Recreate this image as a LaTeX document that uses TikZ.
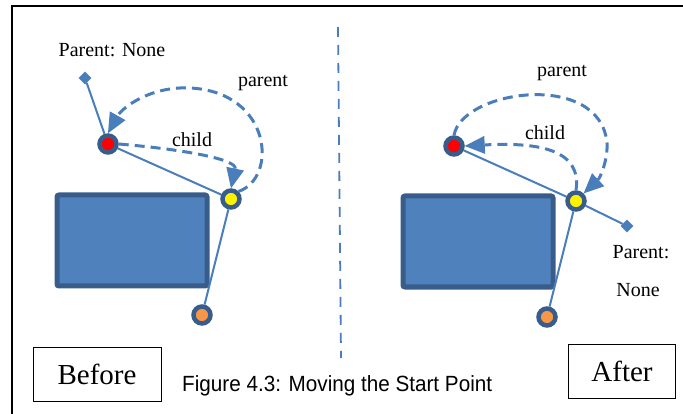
\documentclass[tikz,border=0pt]{standalone}
\usepackage{fontspec}
\setmainfont{Liberation Serif}
\newfontfamily\capfont{Liberation Sans}
\usetikzlibrary{arrows.meta}
\definecolor{linecol}{RGB}{74,126,187}
\definecolor{ringcol}{RGB}{56,93,138}
\definecolor{boxfill}{RGB}{79,129,189}
\definecolor{dotorange}{RGB}{247,150,70}
\tikzset{
  joint/.style={circle, draw=ringcol, line width=4.5pt, minimum size=17pt, inner sep=0pt},
  link/.style={draw=linecol, line width=2pt},
  endmark/.style={rectangle, rotate=45, fill=linecol, minimum size=9pt, inner sep=0pt},
  ptr/.style={draw=linecol, line width=3pt, dash pattern=on 10pt off 6pt,
    -{Triangle[length=20pt,width=18pt,line width=0pt]}},
  obstacle/.style={draw=ringcol, fill=boxfill, line width=5pt, rounded corners=2pt},
  lbl/.style={font=\fontsize{20}{24}\selectfont, inner sep=0pt},
  tag/.style={draw=black, line width=0.9pt, font=\fontsize{29}{33}\selectfont}
}
\begin{document}
\begin{tikzpicture}[x=1pt, y=-1pt]
\useasboundingbox (0,0) rectangle (683,414);
% outer frame (top and left edges)
\draw[line width=2pt] (683,6) -- (12,6) -- (12,414);
% divider
\draw[linecol, line width=1.8pt, dash pattern=on 10pt off 8pt] (338,27) -- (341,358);

% ---------- before ----------
\draw[obstacle] (57,195) rectangle (207,286);
\node[endmark] (ba) at (85,78) {};
\node[joint, fill=red] (br) at (108,144) {};
\node[joint, fill=yellow] (by) at (231,199) {};
\node[joint, fill=dotorange] (bo) at (202,315) {};
\draw[link] (ba) -- (br);
\draw[link] (br) -- (by);
\draw[link] (by) -- (bo);
\node[lbl] (bpn) at (112,50) {Parent: None};
\draw[ptr] (br.east) .. controls (190,150) and (237,160) .. (by.north);
\node[lbl] (bch) at (192,140) {child};
\draw[ptr] (by.north east) .. controls (278,178) and (272,92) .. (190,88)
  .. controls (150,86) and (122,108) .. (br.north);
\node[lbl] (bpa) at (263,83) {parent};

% ---------- after ----------
\draw[obstacle] (403,196) rectangle (553,287);
\node[joint, fill=red] (ar) at (454,146) {};
\node[joint, fill=yellow] (ay) at (576,201) {};
\node[joint, fill=dotorange] (ao) at (547,317) {};
\node[endmark] (aa) at (627,226) {};
\draw[link] (ar) -- (ay);
\draw[link] (ay) -- (aa);
\draw[link] (ay) -- (ao);
\draw[ptr] (ay.north) .. controls (582,150) and (540,142) .. (ar.east);
\node[lbl] (ach) at (545,133) {child};
\draw[ptr] (ar.north) .. controls (462,90) and (600,70) .. (607,143)
  .. controls (608,160) and (600,178) .. (ay.north east);
\node[lbl] (apa) at (562,73) {parent};
\node[lbl] (apn1) at (641,252) {Parent:};
\node[lbl] (apn2) at (638,290) {None};

% ---------- tags and caption ----------
\node[tag, minimum width=128pt, minimum height=54pt] (before) at (97,374) {Before};
\node[tag, minimum width=107pt, minimum height=54pt] (after) at (622,371) {After};
\node[anchor=west, inner sep=0pt, font=\capfont\fontsize{22}{26}\selectfont, xscale=0.94] (cap) at (182,386) {Figure 4.3: Moving the Start Point};
\end{tikzpicture}
\end{document}
